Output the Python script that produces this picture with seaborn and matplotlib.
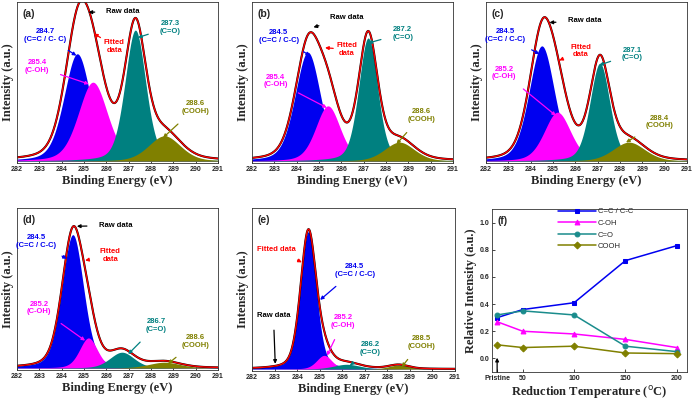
import numpy as np
import pandas as pd
import matplotlib
matplotlib.use("Agg")
import matplotlib.pyplot as plt
import seaborn as sns

sns.set_style("ticks")
plt.rcParams['font.family'] = ['Liberation Sans', 'DejaVu Sans']

# C1s peak fits: centre (eV), height (fraction of axis), FWHM (eV)
# order of components: C=C / C-C, C-OH, C=O, COOH
centers_a = [284.7, 285.4, 287.3, 288.6]
heights_a = [0.68, 0.50, 0.83, 0.16]
fwhm_a = [1.40, 1.55, 1.10, 1.70]

centers_b = [284.5, 285.4, 287.2, 288.6]
heights_b = [0.69, 0.35, 0.78, 0.12]
fwhm_b = [1.35, 1.30, 1.00, 1.60]

centers_c = [284.5, 285.2, 287.1, 288.4]
heights_c = [0.73, 0.31, 0.62, 0.12]
fwhm_c = [1.35, 1.40, 1.05, 1.70]

centers_d = [284.5, 285.2, 286.7, 288.6]
heights_d = [0.84, 0.19, 0.10, 0.037]
fwhm_d = [1.15, 0.95, 1.30, 1.70]

centers_e = [284.5, 285.2, 286.2, 288.5]
heights_e = [0.86, 0.086, 0.03, 0.025]
fwhm_e = [0.82, 0.80, 1.40, 1.05]

lorentz_frac = 0.3   # GL(30) line shape
baseline = 0.012

# panel (f): relative intensities vs reduction temperature
temps = [25, 50, 100, 150, 200]
temp_labels = ["Pristine", "50", "100", "150", "200"]
cc = [0.30, 0.36, 0.41, 0.72, 0.83]
coh = [0.27, 0.20, 0.18, 0.14, 0.08]
co = [0.32, 0.35, 0.32, 0.09, 0.05]
cooh = [0.10, 0.08, 0.09, 0.04, 0.035]

BLUE = "#0000f0"
MAG = "#ff00ff"
TEAL = "#008080"
OLIVE = "#808000"
RED = "#ff0000"
comp_colors = [BLUE, MAG, TEAL, OLIVE]

W, H = 693, 403
fig = plt.figure(figsize=(W / 100, H / 100), dpi=100)


def add_ax(l, t, r, b):
    return fig.add_axes([l / W, 1 - b / H, (r - l) / W, (b - t) / H])


serif = dict(family="Liberation Serif", weight="bold", size=9)


def note(ax, text, xy, xytext, color):
    ax.annotate(text, xy=xy, xytext=xytext, color=color, ha="center", va="center",
                family="Liberation Sans", weight="bold", size=5.5, linespacing=1.15,
                arrowprops=dict(arrowstyle="-|>", color=color, lw=0.9,
                                mutation_scale=5, shrinkA=6, shrinkB=0))


def gl_peak(x, c, h, w):
    u = (x - c) / w
    gauss = np.exp(-4 * np.log(2) * u ** 2)
    lor = 1 / (1 + 4 * u ** 2)
    return h * ((1 - lorentz_frac) * gauss + lorentz_frac * lor)


def spectrum(ax, centers, heights, fwhm, label):
    x = np.linspace(282, 291, 900)
    total = np.zeros_like(x)
    for c, h, w, col in zip(centers, heights, fwhm, comp_colors):
        g = gl_peak(x, c, h, w)
        ax.fill_between(x, baseline, baseline + g, color=col, lw=0)
        total += g
    df = pd.DataFrame({"E": x, "I": total + baseline})
    sns.lineplot(data=df, x="E", y="I", ax=ax, color="black", lw=1.5)
    sns.lineplot(data=df, x="E", y="I", ax=ax, color=RED, lw=1.0)
    ax.set_xlim(282, 291)
    ax.set_ylim(0, 1.02)
    ax.set_xticks(range(282, 292))
    ax.set_yticks([])
    ax.tick_params(axis="x", direction="in", length=2, width=0.6, pad=2, labelsize=5)
    for t in ax.get_xticklabels():
        t.set_fontweight("bold")
    for sp in ax.spines.values():
        sp.set_linewidth(0.6)
        sp.set_color("#333333")
    ax.set_xlabel("Binding Energy (eV)", fontdict=serif, labelpad=1.5)
    ax.set_ylabel("Intensity (a.u.)", fontdict=serif, labelpad=2)
    ax.text(0.025, 0.955, label, transform=ax.transAxes, fontsize=7.5, weight="bold",
            ha="left", va="top")


# (a)
ax = add_ax(17, 2, 218, 163)
spectrum(ax, centers_a, heights_a, fwhm_a, "(a)")
note(ax, "Raw data", (285.2, 0.955), (286.75, 0.96), "black")
note(ax, "Fitted\ndata", (285.45, 0.82), (286.35, 0.74), RED)
note(ax, "284.7\n(C=C / C- C)", (284.66, 0.68), (283.25, 0.81), BLUE)
note(ax, "285.4\n(C-OH)", (285.22, 0.50), (282.9, 0.61), MAG)
note(ax, "287.3\n(C=O)", (287.42, 0.795), (288.85, 0.86), TEAL)
note(ax, "288.6\n(COOH)", (288.54, 0.16), (290.0, 0.35), OLIVE)

# (b)
ax = add_ax(252, 2, 453, 163)
spectrum(ax, centers_b, heights_b, fwhm_b, "(b)")
note(ax, "Raw data", (284.75, 0.86), (286.25, 0.92), "black")
note(ax, "Fitted\ndata", (285.27, 0.73), (286.25, 0.72), RED)
note(ax, "284.5\n(C=C / C-C)", (284.6, 0.68), (283.2, 0.80), BLUE)
note(ax, "285.4\n(C-OH)", (285.35, 0.35), (283.05, 0.52), MAG)
note(ax, "287.2\n(C=O)", (287.2, 0.76), (288.75, 0.82), TEAL)
note(ax, "288.6\n(COOH)", (288.47, 0.12), (289.6, 0.30), OLIVE)

# (c)
ax = add_ax(486, 2, 687, 163)
spectrum(ax, centers_c, heights_c, fwhm_c, "(c)")
note(ax, "Raw data", (284.84, 0.89), (286.4, 0.90), "black")
note(ax, "Fitted\ndata", (285.28, 0.65), (286.25, 0.71), RED)
note(ax, "284.5\n(C=C / C-C)", (284.39, 0.69), (282.85, 0.81), BLUE)
note(ax, "285.2\n(C-OH)", (285.13, 0.30), (282.8, 0.57), MAG)
note(ax, "287.1\n(C=O)", (287.07, 0.62), (288.55, 0.69), TEAL)
note(ax, "288.4\n(COOH)", (288.27, 0.13), (289.75, 0.26), OLIVE)

# (d)
ax = add_ax(17, 208, 218, 370)
spectrum(ax, centers_d, heights_d, fwhm_d, "(d)")
note(ax, "Raw data", (284.68, 0.905), (286.4, 0.91), "black")
note(ax, "Fitted\ndata", (285.05, 0.69), (286.17, 0.72), RED)
note(ax, "284.5\n(C=C / C-C)", (284.23, 0.70), (282.85, 0.81), BLUE)
note(ax, "285.2\n(C-OH)", (285.05, 0.185), (283.0, 0.39), MAG)
note(ax, "286.7\n(C=O)", (286.98, 0.10), (288.25, 0.28), TEAL)
note(ax, "288.6\n(COOH)", (288.77, 0.04), (290.0, 0.18), OLIVE)

# (e)
ax = add_ax(252, 208, 455, 371)
spectrum(ax, centers_e, heights_e, fwhm_e, "(e)")
note(ax, "Fitted data", (284.21, 0.68), (283.1, 0.76), RED)
note(ax, "284.5\n(C=C / C-C)", (285.02, 0.445), (286.55, 0.63), BLUE)
note(ax, "Raw data", (283.03, 0.045), (282.95, 0.35), "black")
note(ax, "285.2\n(C-OH)", (285.32, 0.096), (286.05, 0.31), MAG)
note(ax, "286.2\n(C=O)", (286.35, 0.035), (287.25, 0.14), TEAL)
note(ax, "288.5\n(COOH)", (288.64, 0.025), (289.5, 0.18), OLIVE)

# (f)
ax = add_ax(492, 209, 687, 372)
series = [("C=C / C-C", cc, BLUE, "s"), ("C-OH", coh, MAG, "^"),
          ("C=O", co, "#1a8c8c", "o"), ("COOH", cooh, OLIVE, "D")]
for name, vals, col, mk in series:
    df = pd.DataFrame({"T": temps, "v": vals})
    sns.lineplot(data=df, x="T", y="v", ax=ax, color=col, marker=mk, markersize=3.5,
                 markeredgecolor=col, lw=1.1, label=name)
ax.set_xlim(20, 210)
ax.set_ylim(-0.1, 1.1)
ax.set_xticks(temps)
ax.set_xticklabels(temp_labels)
ax.set_yticks([0.0, 0.2, 0.4, 0.6, 0.8, 1.0])
ax.set_yticklabels(["0.0", "0.2", "0.4", "0.6", "0.8", "1.0"])
ax.tick_params(direction="in", length=2, width=0.6, pad=2, labelsize=5)
for t in ax.get_xticklabels() + ax.get_yticklabels():
    t.set_fontweight("bold")
for sp in ax.spines.values():
    sp.set_linewidth(0.6)
    sp.set_color("#333333")
ax.set_xlabel("Reduction Temperature ($^{\\rm o}$C)", fontdict=serif, labelpad=1.5)
ax.set_ylabel("Relative Intensity (a.u.)", fontdict=serif, labelpad=2)
ax.text(0.03, 0.955, "(f)", transform=ax.transAxes, fontsize=7.5, weight="bold",
        ha="left", va="top")
ax.annotate("", xy=(25, 0.005), xytext=(25, -0.1),
            arrowprops=dict(arrowstyle="-|>", color="black", lw=0.9, mutation_scale=5,
                            shrinkA=0, shrinkB=0))
leg = ax.legend(loc="upper left", bbox_to_anchor=(0.33, 1.015), frameon=False,
                fontsize=5.5, handlelength=5.0, handletextpad=0.2, labelspacing=0.55,
                borderaxespad=0, borderpad=0.2)

fig.savefig("out.png", dpi=100)
